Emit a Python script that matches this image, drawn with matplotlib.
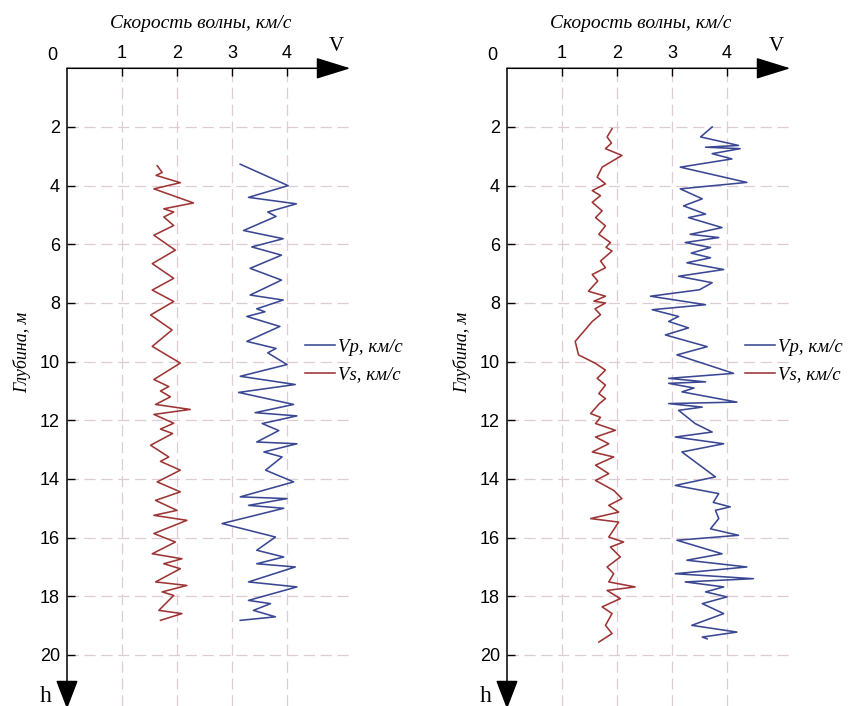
import matplotlib
matplotlib.use("Agg")
import matplotlib.pyplot as plt

# ---------------- data ----------------
x_ticks = [1, 2, 3, 4]
depth_ticks = [2, 4, 6, 8, 10, 12, 14, 16, 18, 20]
title_text = "Скорость волны, км/с"
ylabel_text = "Глубина, м"
label_vp = "Vp, км/с"
label_vs = "Vs, км/с"

# Left panel, Vs (depth m, speed km/s)
left_vs_depth = [3.32, 3.55, 3.65, 3.90, 4.11, 4.59, 4.79, 4.90, 5.07, 5.36, 5.69, 6.20, 6.66,
                 7.16, 7.56, 7.95, 8.41, 8.92, 9.48, 10.05, 10.61, 10.85, 11.00, 11.20, 11.46,
                 11.63, 11.80, 12.10, 12.30, 12.45, 12.85, 13.25, 13.40, 13.70, 14.10, 14.44,
                 14.73, 15.07, 15.24, 15.41, 15.86, 16.15, 16.55, 16.72, 16.89, 17.06, 17.51,
                 17.63, 17.85, 17.97, 18.48, 18.59, 18.82]
left_vs_speed = [1.64, 1.73, 1.62, 2.06, 1.58, 2.30, 1.76, 1.94, 1.76, 1.94, 1.58, 1.97, 1.55,
                 1.94, 1.55, 1.94, 1.52, 1.91, 1.55, 2.06, 1.58, 1.85, 1.70, 1.88, 1.61,
                 2.24, 1.58, 1.94, 1.70, 1.92, 1.52, 1.85, 1.70, 2.06, 1.64, 2.06,
                 1.61, 2.00, 1.58, 2.18, 1.58, 1.97, 1.55, 2.09, 1.76, 2.06, 1.61,
                 2.18, 1.73, 1.94, 1.67, 2.09, 1.70]

# Left panel, Vp
left_vp_depth = [3.27, 4.00, 4.40, 4.62, 4.90, 5.05, 5.53, 5.81, 6.09, 6.37, 6.82, 7.22, 7.73,
                 7.90, 8.20, 8.30, 8.46, 8.80, 9.31, 9.55, 9.70, 10.10, 10.50, 10.78, 11.05,
                 11.46, 11.74, 11.85, 12.11, 12.35, 12.74, 12.80, 13.08, 13.25, 13.70, 14.10,
                 14.61, 14.67, 14.90, 15.00, 15.52, 15.98, 16.43, 16.66, 16.89, 17.00, 17.51,
                 17.68, 18.14, 18.25, 18.48, 18.70, 18.82]
left_vp_speed = [3.15, 4.02, 3.30, 4.17, 3.65, 3.80, 3.21, 3.93, 3.36, 3.90, 3.33, 3.90, 3.33,
                 3.93, 3.45, 3.60, 3.27, 3.87, 3.27, 3.80, 3.65, 4.00, 3.15, 4.15, 3.12,
                 4.12, 3.42, 4.18, 3.55, 3.85, 3.45, 4.18, 3.58, 3.91, 3.61, 4.12,
                 3.15, 4.00, 3.30, 3.94, 2.82, 3.79, 3.45, 3.94, 3.45, 4.15, 3.30,
                 4.18, 3.30, 3.70, 3.39, 3.79, 3.15]

# Right panel, Vs
right_vs_depth = [2.06, 2.34, 2.55, 2.74, 2.97, 3.37, 3.71, 3.94, 4.17, 4.34, 4.57, 4.86, 5.09,
                  5.37, 5.66, 5.94, 6.10, 6.23, 6.57, 6.80, 7.03, 7.25, 7.60, 7.77, 7.94, 8.00,
                  8.20, 8.40, 8.63, 9.31, 9.77, 10.06, 10.29, 10.57, 10.80, 11.09, 11.26, 11.43,
                  11.77, 11.90, 12.11, 12.34, 12.57, 12.80, 13.08, 13.25, 13.53, 13.82, 14.05,
                  14.39, 14.67, 14.90, 15.13, 15.35, 15.47, 15.70, 15.98, 16.15, 16.32, 16.66,
                  17.00, 17.23, 17.51, 17.68, 17.80, 18.08, 18.36, 18.59, 18.99, 19.27, 19.56]
right_vs_speed = [1.91, 1.82, 1.90, 1.79, 2.09, 1.73, 1.64, 1.79, 1.55, 1.70, 1.55, 1.73, 1.61,
                  1.79, 1.67, 1.88, 1.80, 1.91, 1.70, 1.79, 1.55, 1.65, 1.48, 1.79, 1.58, 1.79,
                  1.60, 1.70, 1.55, 1.24, 1.30, 1.61, 1.79, 1.64, 1.79, 1.67, 1.79, 1.68,
                  1.52, 1.70, 1.61, 1.97, 1.61, 1.85, 1.55, 1.94, 1.61, 1.85, 1.61,
                  1.94, 2.09, 1.85, 2.03, 1.52, 2.03, 1.95, 1.85, 2.12, 1.88, 2.06,
                  1.82, 1.94, 1.85, 2.33, 1.82, 2.06, 1.73, 1.91, 1.79, 1.91, 1.67]

# Right panel, Vp
right_vp_depth = [2.00, 2.34, 2.63, 2.69, 2.74, 2.91, 3.09, 3.37, 3.89, 4.11, 4.45, 4.69, 4.97,
                  5.09, 5.43, 5.66, 5.77, 5.94, 6.11, 6.30, 6.46, 6.63, 6.86, 7.09, 7.31, 7.55,
                  7.77, 8.06, 8.23, 8.46, 8.63, 8.85, 9.09, 9.49, 9.77, 10.40, 10.57, 10.69,
                  10.74, 10.90, 11.03, 11.38, 11.43, 11.55, 11.66, 12.11, 12.40, 12.57, 12.80,
                  13.08, 13.93, 14.22, 14.50, 14.80, 14.95, 15.07, 15.35, 15.70, 15.92, 16.09,
                  16.55, 16.77, 17.00, 17.23, 17.40, 17.51, 17.68, 17.85, 18.02, 18.25, 18.59,
                  18.99, 19.22, 19.39, 19.45]
right_vp_speed = [3.73, 3.52, 4.21, 3.61, 4.24, 3.73, 4.09, 3.15, 4.36, 3.15, 3.55, 3.21, 3.61,
                  3.30, 3.91, 3.33, 3.85, 3.24, 3.70, 3.35, 3.70, 3.27, 3.94, 3.12, 3.73, 3.50,
                  2.61, 3.61, 2.64, 3.12, 2.94, 3.30, 2.88, 3.64, 3.09, 4.12, 2.94, 3.61,
                  2.94, 3.40, 3.18, 4.18, 2.94, 3.55, 3.12, 3.42, 3.73, 3.06, 3.94,
                  3.18, 3.79, 3.06, 3.85, 3.75, 4.06, 3.79, 3.85, 3.70, 4.21, 3.09,
                  3.91, 3.27, 4.36, 3.06, 4.48, 3.24, 3.94, 3.61, 4.00, 3.55, 3.94,
                  3.36, 4.18, 3.55, 3.64]

panels = [
    (left_vp_depth, left_vp_speed, left_vs_depth, left_vs_speed),
    (right_vp_depth, right_vp_speed, right_vs_depth, right_vs_speed),
]

# ---------------- style ----------------
W, H = 850, 706
VP_COLOR = "#3a4894"
VS_COLOR = "#9e3535"
GRID_COLOR = "#decbd6"
SERIF = ["Liberation Serif", "DejaVu Serif"]
SANS = ["Liberation Sans", "DejaVu Sans"]

fig = plt.figure(figsize=(W / 100, H / 100), dpi=100)

X_MAX = 5.15
Y_MAX = 21.74
axes_left_px = [67, 507]
axes_top_px = 68.3
axes_w_px = X_MAX * 55

for i, (vp_d, vp_v, vs_d, vs_v) in enumerate(panels):
    x0 = axes_left_px[i]
    ax = fig.add_axes([x0 / W, 0, axes_w_px / W, (H - axes_top_px) / H])
    ax.set_xlim(0, X_MAX)
    ax.set_ylim(Y_MAX, 0)
    for s in ax.spines.values():
        s.set_visible(False)

    # grid
    for xv in x_ticks:
        ax.axvline(xv, color=GRID_COLOR, lw=0.9, dashes=(9, 4.5), zorder=0)
    for yv in depth_ticks:
        ax.axhline(yv, color=GRID_COLOR, lw=0.9, dashes=(9, 4.5), zorder=0)

    # curves
    lvp, = ax.plot(vp_v, vp_d, color=VP_COLOR, lw=1.15, solid_joinstyle="round", zorder=3)
    lvs, = ax.plot(vs_v, vs_d, color=VS_COLOR, lw=1.15, solid_joinstyle="round", zorder=3)

    # axis arrows
    ax.annotate("", xy=(X_MAX, 0), xytext=(0, 0), xycoords="data",
                arrowprops=dict(arrowstyle="-|>,head_length=1.55,head_width=0.48",
                                mutation_scale=14, color="black", lw=1.1,
                                shrinkA=0, shrinkB=0), annotation_clip=False)
    ax.annotate("", xy=(0, Y_MAX + 0.1), xytext=(0, 0), xycoords="data",
                arrowprops=dict(arrowstyle="-|>,head_length=1.3,head_width=0.5",
                                mutation_scale=14, color="black", lw=1.1,
                                shrinkA=0, shrinkB=0), annotation_clip=False)

    # ticks
    ax.xaxis.tick_top()
    ax.set_xticks(x_ticks)
    ax.set_xticklabels([str(t) for t in x_ticks], family=SANS, fontsize=13)
    ax.set_yticks(depth_ticks)
    ax.set_yticklabels([str(t) for t in depth_ticks], family=SANS, fontsize=13)
    ax.tick_params(axis="x", direction="in", length=6, width=1, pad=4.5, top=True, bottom=False)
    ax.tick_params(axis="y", direction="in", length=6, width=1, pad=5)

    ax.annotate("0", xy=(0, 0), xytext=(-15, 13), textcoords="offset pixels",
                ha="center", va="center", family=SANS, fontsize=13, annotation_clip=False)
    ax.annotate("V", xy=(0, 0), xytext=(269, 22), textcoords="offset pixels",
                ha="center", va="center", family=SERIF, fontsize=15, annotation_clip=False)
    ax.annotate("h", xy=(0, Y_MAX), xytext=(-21, 10), textcoords="offset pixels",
                ha="center", va="center", family=SERIF, fontsize=17, annotation_clip=False)

    # titles / labels
    fig.text((x0 + 134) / W, 1 - 23 / H, title_text, ha="center", va="center",
             family=SERIF, style="italic", fontsize=14)
    fig.text((x0 - 45) / W, 1 - 352 / H, ylabel_text, ha="center", va="center",
             rotation=90, family=SERIF, style="italic", fontsize=13)

    # legend
    fig.legend([lvp, lvs], [label_vp, label_vs], loc="center left",
               bbox_to_anchor=((x0 + 238) / W, 1 - 361 / H),
               bbox_transform=fig.transFigure, frameon=False, borderpad=0,
               borderaxespad=0, handlelength=1.6, handletextpad=0.15,
               labelspacing=0.55,
               prop=dict(family=SERIF, style="italic", size=13.5))

fig.savefig("out.png", dpi=100)
